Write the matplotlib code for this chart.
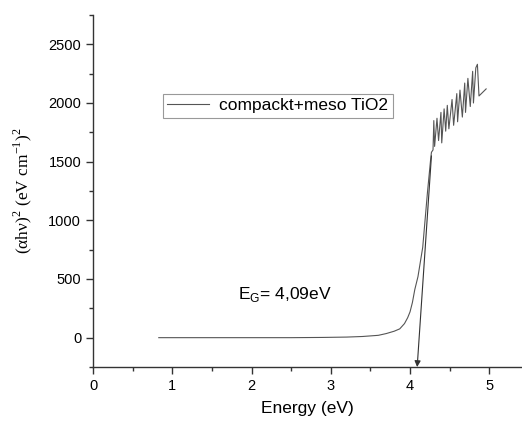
import matplotlib
matplotlib.use("Agg")
import matplotlib.pyplot as plt
from matplotlib.ticker import MultipleLocator

# Tauc plot data
energy = [0.83, 1.5, 2.0, 2.5, 2.9, 3.2, 3.4, 3.6, 3.7, 3.8, 3.87, 3.93, 3.97,
          4.0, 4.03, 4.06, 4.1, 4.16, 4.22, 4.26, 4.27, 4.29, 4.30, 4.31, 4.34,
          4.36, 4.39, 4.40, 4.43, 4.45, 4.47, 4.49, 4.53, 4.55, 4.59, 4.60,
          4.63, 4.66, 4.69, 4.70, 4.73, 4.76, 4.79, 4.80, 4.83, 4.85, 4.87,
          4.90, 4.96]
ahv2 = [0, 0, 0, 0, 2, 5, 10, 20, 35, 55, 75, 120, 170,
        220, 300, 410, 520, 770, 1240, 1520, 1580, 1600, 1850, 1630, 1870,
        1680, 1920, 1660, 1950, 1760, 1980, 1780, 2030, 1810, 2080, 1840,
        2110, 1880, 2170, 1920, 2210, 1970, 2270, 2000, 2300, 2330, 2060,
        2080, 2120]

label = "compackt+meso TiO2"
eg_value = 4.09
tangent_start = (4.27, 1550)

plt.rcParams['font.family'] = ['Liberation Sans', 'DejaVu Sans']

fig = plt.figure(figsize=(5.22, 4.24), dpi=100)
ax = fig.add_axes([93/522, 57/424, 428/522, 352/424])

ax.plot(energy, ahv2, color='#555555', lw=0.8, label=label)

# tangent / band gap arrow
ax.annotate("", xy=(eg_value, -250), xytext=tangent_start,
            arrowprops=dict(arrowstyle='-|>', color='#333333', lw=0.8,
                            mutation_scale=9, shrinkA=0, shrinkB=0))
ax.text(2.42, 367, r"E$_\mathregular{G}$= 4,09eV", fontsize=12.5,
        ha='center', va='center')

ax.set_xlim(0, 5.4)
ax.set_ylim(-250, 2750)
ax.xaxis.set_major_locator(MultipleLocator(1))
ax.xaxis.set_minor_locator(MultipleLocator(0.5))
ax.yaxis.set_major_locator(MultipleLocator(500))
ax.yaxis.set_minor_locator(MultipleLocator(250))

for s in ['top', 'right']:
    ax.spines[s].set_visible(False)
for s in ['left', 'bottom']:
    ax.spines[s].set_color('#333333')
    ax.spines[s].set_linewidth(1.0)
ax.tick_params(which='major', direction='out', length=5, width=1,
               color='#333333', labelsize=10.5)
ax.tick_params(which='minor', direction='out', length=3, width=1,
               color='#333333')

ax.set_xlabel("Energy (eV)", fontsize=12.5, labelpad=6)
ax.set_ylabel("(αhν)$^\\mathregular{2}$ (eV cm$^\\mathregular{-1}$)$^\\mathregular{2}$",
              fontsize=12.5, family=['Liberation Serif', 'DejaVu Serif'],
              labelpad=10)

leg = ax.legend(loc='upper left', bbox_to_anchor=(163/522, 1 - 94/424),
                bbox_transform=fig.transFigure, fontsize=12.5,
                fancybox=False, framealpha=1, edgecolor='#999999',
                borderpad=0.25, handlelength=2.4, handletextpad=0.6,
                borderaxespad=0)
leg.get_frame().set_linewidth(0.8)

fig.savefig("out.png", dpi=100)
